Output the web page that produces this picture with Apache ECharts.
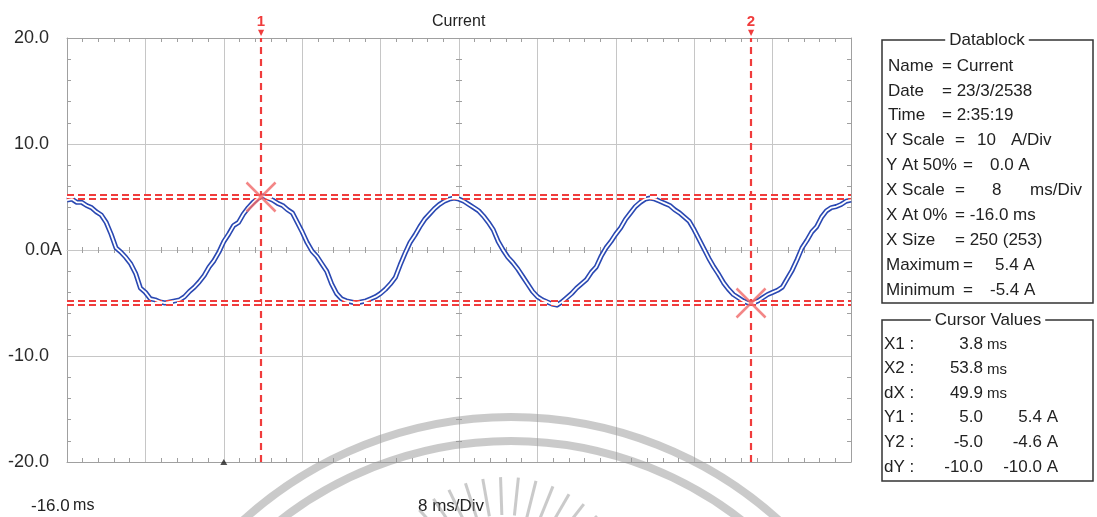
<!DOCTYPE html>
<html><head><meta charset="utf-8">
<script src="https://cdn.jsdelivr.net/npm/echarts@6/dist/echarts.min.js"></script>
<style>html,body{margin:0;padding:0;background:#fff}#c{width:1097px;height:517px}</style>
</head><body><div id="c"></div>
<script>
// ---------- data ----------
const timeMs = [-16,-15.5,-15,-14.5,-14,-13.5,-13,-12.5,-12,-11.5,-11,-10.5,-10,-9.5,-9,-8.5,-8,-7.5,-7,-6.5,-6,-5.5,-5,-4.5,-4,-3.5,-3,-2.5,-2,-1.5,-1,-0.5,
  0,0.5,1,1.5,2,2.5,3,3.5,4,4.5,5,5.5,6,6.5,7,7.5,8,8.5,9,9.5,10,10.5,11,11.5,12,12.5,13,13.5,14,14.5,15,15.5,
  16,16.5,17,17.5,18,18.5,19,19.5,20,20.5,21,21.5,22,22.5,23,23.5,24,24.5,25,25.5,26,26.5,27,27.5,28,28.5,29,29.5,30,30.5,31,31.5,
  32,32.5,33,33.5,34,34.5,35,35.5,36,36.5,37,37.5,38,38.5,39,39.5,40,40.5,41,41.5,42,42.5,43,43.5,44,44.5,45,45.5,46,46.5,47,47.5,
  48,48.5,49,49.5,50,50.5,51,51.5,52,52.5,53,53.5,54,54.5,55,55.5,56,56.5,57,57.5,58,58.5,59,59.5,60,60.5,61,61.5,62,62.5,63,63.5,64];
const currentA = [4.7,4.8,4.5,4.5,4.2,4.0,3.6,3.3,2.6,1.5,0.2,-0.2,-0.7,-1.3,-2.2,-3.6,-4.0,-4.6,-4.7,-4.9,-5.0,-4.9,-4.8,-4.7,-4.4,-3.9,-3.5,-3.0,-2.4,-1.6,-1.0,-0.2,
  0.8,1.5,2.3,2.6,3.4,4.0,4.5,4.9,5.1,4.9,4.7,4.4,4.2,3.8,3.5,2.6,1.7,0.7,-0.1,-0.6,-1.3,-2.0,-3.2,-4.1,-4.6,-4.8,-4.9,-5.0,-4.9,-4.8,-4.6,-4.4,
  -4.1,-3.7,-3.2,-2.6,-1.4,-0.3,0.7,1.4,2.2,2.9,3.4,3.9,4.3,4.6,4.8,4.9,4.8,4.6,4.3,4.0,3.7,3.2,2.6,1.9,0.8,0.0,-0.7,-1.2,-1.8,-2.5,-3.2,-3.9,
  -4.4,-4.7,-4.9,-5.1,-5.2,-4.9,-4.5,-4.1,-3.6,-3.2,-2.8,-2.1,-1.6,-0.6,0.2,0.8,1.5,2.1,2.9,3.5,4.1,4.5,4.8,4.9,4.8,4.6,4.4,4.2,3.8,3.5,3.1,2.7,
  1.9,1.0,0.1,-0.8,-1.6,-2.3,-3.1,-3.7,-4.2,-4.5,-4.8,-5.0,-5.0,-4.8,-4.5,-4.2,-4.0,-3.8,-3.5,-2.7,-1.9,-0.9,0.2,0.9,1.7,2.2,3.1,3.7,4.0,4.1,4.3,4.6,4.7];
const yTickLabels = {'20':'20.0','10':'10.0','0':'0.0A','-10':'-10.0','-20':'-20.0'};
const cursorNames = ['1','2'];
const cursorX = [3.8, 53.8];
const cursorY = [5.0, -5.0];
const triggerT = [0];
const titleText = 'Current';
const xStartText = ['-16.0', 'ms'];
const xScaleText = '8 ms/Div';
const dbTitle = 'Datablock';
const dbRows = [
  ['Name','= Current'],
  ['Date','= 23/3/2538'],
  ['Time','= 2:35:19'],
  ['Y Scale','=','10','A/Div'],
  ['Y At 50%','=','0.0 A'],
  ['X Scale','=','8','ms/Div'],
  ['X At 0%','= -16.0 ms'],
  ['X Size','= 250 (253)'],
  ['Maximum','=','5.4 A'],
  ['Minimum','=','-5.4 A']
];
const cvTitle = 'Cursor Values';
const cvRows = [
  ['X1 :','3.8','ms',''],
  ['X2 :','53.8','ms',''],
  ['dX :','49.9','ms',''],
  ['Y1 :','5.0','','5.4 A'],
  ['Y2 :','-5.0','','-4.6 A'],
  ['dY :','-10.0','','-10.0 A']
];

// ---------- layout / style ----------
const FONT = '"Liberation Sans", Arial, sans-serif';
const TXT = '#222';
const gridColor = '#c6c6c6';
const borderColor = '#a0a0a0';
const red = '#f03c3c';
const dbCols = [[888,942],[888,942],[888,942],[886,955,977,1011],[886,963,990],[886,955,992,1030],[886,955],[886,955],[886,963,995],[886,963,990]];

const chart = echarts.init(document.getElementById('c'));

function xAx(extra){
  return Object.assign({type:'value',min:-16,max:64,interval:8,
    axisLabel:{show:false},axisTick:{show:false,inside:true},
    splitLine:{show:false},axisLine:{show:false,onZero:false},
    minorTick:{show:true,splitNumber:5,length:4,lineStyle:{color:borderColor,width:1}}},extra);
}
function yAx(extra){
  return Object.assign({type:'value',min:-20,max:20,interval:10,
    axisLabel:{show:false},axisTick:{show:false,inside:true},
    splitLine:{show:false},axisLine:{show:false,onZero:false},
    minorTick:{show:true,splitNumber:5,length:4,lineStyle:{color:borderColor,width:1}}},extra);
}

const graphic = [];
// watermark
const wm = 'rgba(150,150,150,0.5)';
graphic.push({type:'arc',silent:true,z:100,shape:{cx:511,cy:816,r:399,startAngle:Math.PI,endAngle:2*Math.PI},style:{stroke:wm,fill:null,lineWidth:8}});
graphic.push({type:'arc',silent:true,z:100,shape:{cx:511,cy:816,r:375,startAngle:Math.PI,endAngle:2*Math.PI},style:{stroke:wm,fill:null,lineWidth:8}});
for (let a = 196; a <= 344; a += 8) {
  const r = a * Math.PI / 180;
  graphic.push({type:'line',silent:true,z:100,shape:{x1:505+90*Math.cos(r),y1:605+90*Math.sin(r),x2:505+128*Math.cos(r),y2:605+128*Math.sin(r)},style:{stroke:wm,lineWidth:3}});
}
// bottom texts
graphic.push({type:'text',x:31,y:506,style:{text:'{a|'+xStartText[0]+'} {b|'+xStartText[1]+'}',rich:{a:{fontSize:17,fontFamily:FONT,fill:TXT},b:{fontSize:16,fontFamily:FONT,fill:TXT}},verticalAlign:'middle'}});
graphic.push({type:'text',x:418,y:506,style:{text:xScaleText,font:'17px '+FONT,fill:TXT,verticalAlign:'middle'}});
// Datablock box
graphic.push({type:'rect',shape:{x:882,y:40,width:211,height:263},style:{fill:null,stroke:'#333',lineWidth:1.5}});
graphic.push({type:'text',x:987,y:40,style:{text:dbTitle,font:'17px '+FONT,fill:TXT,align:'center',verticalAlign:'middle',backgroundColor:'#fff',padding:[0,4]}});
dbRows.forEach((row,i)=>{
  row.forEach((t,j)=>{
    graphic.push({type:'text',x:dbCols[i][j],y:66+i*24.9,style:{text:t,font:'17px '+FONT,fill:TXT,verticalAlign:'middle'}});
  });
});
// Cursor values box
graphic.push({type:'rect',shape:{x:882,y:320,width:211,height:161},style:{fill:null,stroke:'#333',lineWidth:1.5}});
graphic.push({type:'text',x:988,y:320,style:{text:cvTitle,font:'17px '+FONT,fill:TXT,align:'center',verticalAlign:'middle',backgroundColor:'#fff',padding:[0,4]}});
cvRows.forEach((row,i)=>{
  const y = 344+i*24.6;
  graphic.push({type:'text',x:884,y:y,style:{text:row[0],font:'17px '+FONT,fill:TXT,verticalAlign:'middle'}});
  graphic.push({type:'text',x:983,y:y,style:{text:row[1],font:'17px '+FONT,fill:TXT,align:'right',verticalAlign:'middle'}});
  if (row[2]) graphic.push({type:'text',x:987,y:y+1,style:{text:row[2],font:'15px '+FONT,fill:TXT,verticalAlign:'middle'}});
  if (row[3]) graphic.push({type:'text',x:1058,y:y,style:{text:row[3],font:'17px '+FONT,fill:TXT,align:'right',verticalAlign:'middle'}});
});

const vLines = cursorX.map((x,i)=>({xAxis:x,name:cursorNames[i]}));
const hLines = cursorY.map(y=>({yAxis:y}));
const wave = timeMs.map((t,i)=>[t,currentA[i]]);

const option = {
  animation:false,
  backgroundColor:'#fff',
  title:{text:titleText,left:427,top:9,textStyle:{fontSize:16,fontWeight:'normal',color:TXT,fontFamily:FONT}},
  grid:{left:67,right:246,top:38,bottom:55,containLabel:false},
  xAxis:[
    xAx({position:'bottom',axisLine:{show:true,onZero:false,lineStyle:{color:borderColor}},splitLine:{show:true,lineStyle:{color:gridColor,width:1}}}),
    xAx({position:'top',axisLine:{show:true,onZero:false,lineStyle:{color:borderColor}}}),
    xAx({position:'bottom',axisLine:{show:true,onZero:true,onZeroAxisIndex:0,lineStyle:{color:gridColor}},minorTick:{show:true,splitNumber:5,length:3,lineStyle:{color:borderColor}}}),
    xAx({position:'bottom',axisTick:{show:false,inside:false},axisLine:{show:false,onZero:true,onZeroAxisIndex:0},minorTick:{show:true,splitNumber:5,length:3,lineStyle:{color:borderColor}}})
  ],
  yAxis:[
    yAx({position:'left',axisLine:{show:true,onZero:false,lineStyle:{color:borderColor}},
      splitLine:{show:true,lineStyle:{color:gridColor,width:1}},
      axisLabel:{show:true,margin:5,fontSize:18,color:'#2a2a2a',fontFamily:FONT,
        formatter:v=>{const s=yTickLabels[String(v)]; return v===0? s : s+'{p| }';},
        rich:{p:{width:13,fontSize:18}}}}),
    yAx({position:'right',axisLine:{show:true,onZero:false,lineStyle:{color:borderColor}}}),
    yAx({position:'left',offset:-392,minorTick:{show:true,splitNumber:5,length:3,lineStyle:{color:borderColor}}}),
    yAx({position:'left',offset:-392,axisTick:{show:false,inside:false},minorTick:{show:true,splitNumber:5,length:3,lineStyle:{color:borderColor}}})
  ],
  graphic:graphic,
  series:[
    {type:'scatter',data:[],z:2,silent:true,
      markLine:{silent:true,symbol:['none','none'],animation:false,
        data:[...vLines.map(d=>Object.assign({},d,{lineStyle:{color:red,width:2.2,type:[7,5]},
          label:{show:true,position:'end',distance:1,formatter:p=>'{n|'+p.name+'}\n{t|▼}',
            rich:{n:{fontSize:15,fontWeight:'bold',color:red,fontFamily:FONT,lineHeight:15,align:'center'},t:{fontSize:8,color:red,lineHeight:8,fontFamily:'DejaVu Sans',align:'center'}}}})),
          ...hLines.map(d=>Object.assign({},d,{lineStyle:{color:red,width:6,type:[7,4]},label:{show:false}}))]}},
    {type:'scatter',data:[],z:3,silent:true,
      markLine:{silent:true,symbol:['none','none'],animation:false,
        data:hLines.map(d=>Object.assign({},d,{lineStyle:{color:'#fff',width:1.8,type:[7,4]},label:{show:false}}))}},
    {type:'line',data:wave,showSymbol:false,z:4,lineStyle:{color:'#2a48b2',width:5,join:'round'},silent:true},
    {type:'line',data:wave,showSymbol:false,z:5,lineStyle:{color:'#ffffff',width:1.8,join:'round'},silent:true},
    {type:'scatter',data:cursorX.map((x,i)=>[x,cursorY[i]]),z:6,silent:true,
      symbol:'path://M0,0L24,24M24,0L0,24',symbolSize:29,
      itemStyle:{color:'transparent',borderColor:'#f06868',borderWidth:2.5}},
    {type:'scatter',data:triggerT.map(t=>[t,-20]),z:6,silent:true,clip:false,
      symbol:'triangle',symbolSize:[7,6],itemStyle:{color:'#222'}}
  ]
};
chart.setOption(option);
</script></body></html>
